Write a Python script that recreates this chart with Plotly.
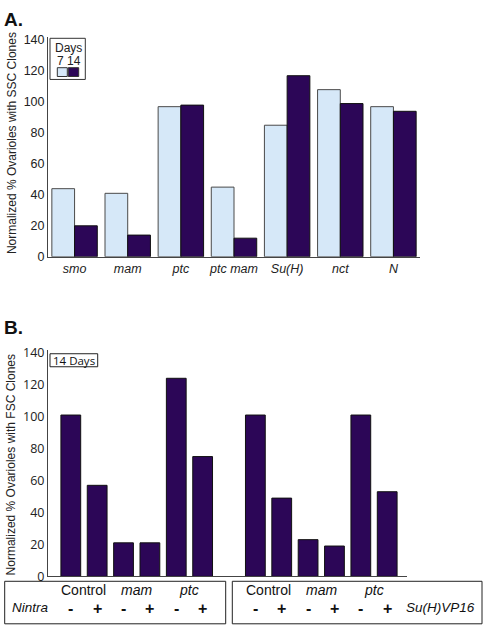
import plotly.graph_objects as go

# ---------- Data ----------
a_categories = ["smo", "mam", "ptc", "ptc mam", "Su(H)", "nct", "N"]
a_day7 = [44, 41, 97, 45, 85, 108, 97]
a_day14 = [20, 14, 98, 12, 117, 99, 94]

b_slots = [0, 1, 2, 3, 4, 5, 7, 8, 9, 10, 11, 12]
b_values = [101, 57, 21, 21, 124, 75, 101, 49, 23, 19, 101, 53]
b_signs = ["-", "+", "-", "+", "-", "+", "-", "+", "-", "+", "-", "+"]
b_group_labels = ["Control", "<i>mam</i>", "<i>ptc</i>", "Control", "<i>mam</i>", "<i>ptc</i>"]
b_group_centers = [0.5, 2.5, 4.5, 7.5, 9.5, 11.5]

y_ticks = [0, 20, 40, 60, 80, 100, 120, 140]

LIGHT = "#d6e8f8"
DARK = "#2c0657"
W, H = 488, 637


def px_x(x):
    return x / W


def px_y(y):
    return 1 - y / H


fig = go.Figure()

fig.add_trace(go.Bar(
    x=a_categories, y=a_day7, name="7", marker=dict(color=LIGHT, line=dict(color="#4a4a4a", width=1)),
    xaxis="x", yaxis="y", showlegend=False))
fig.add_trace(go.Bar(
    x=a_categories, y=a_day14, name="14", marker=dict(color=DARK, line=dict(color="#111111", width=1)),
    xaxis="x", yaxis="y", showlegend=False))
fig.add_trace(go.Bar(
    x=b_slots, y=b_values, width=0.75, marker=dict(color=DARK, line=dict(color="#111111", width=1)),
    xaxis="x2", yaxis="y2", showlegend=False))

font_main = "Liberation Sans, Arial, sans-serif"

fig.update_layout(
    width=W, height=H,
    margin=dict(l=0, r=0, t=0, b=0),
    paper_bgcolor="white", plot_bgcolor="white",
    barmode="group", bargap=0.145, bargroupgap=0,
    font=dict(family=font_main, size=12, color="#222"),
    xaxis=dict(domain=[px_x(48), px_x(420)], anchor="y", range=[-0.5, 6.5],
               tickmode="array", tickvals=a_categories,
               ticktext=["<i>%s</i>" % c for c in a_categories],
               showline=True, linecolor="#444", linewidth=1, showgrid=False,
               ticks="", tickfont=dict(size=12.5, color="#222"), fixedrange=True),
    yaxis=dict(domain=[px_y(257), px_y(32.7)], anchor="x", range=[0, 142],
               tickvals=y_ticks, showline=True, linecolor="#444", linewidth=1,
               showgrid=False, zeroline=False, ticks="", tickfont=dict(size=12.5, color="#222")),
    xaxis2=dict(domain=[px_x(48), px_x(406.7)], anchor="y2", range=[-0.865, 12.74],
                showticklabels=False, showline=True, linecolor="#444", linewidth=1,
                showgrid=False, zeroline=False, ticks=""),
    yaxis2=dict(domain=[px_y(583.3), px_y(351.7)], anchor="x2", range=[0, 142],
                tickvals=y_ticks, showline=True, linecolor="#444", linewidth=1,
                showgrid=False, zeroline=False, ticks="",
                tickfont=dict(family="Open Sans, sans-serif", size=12.5, color="#222")),
)

ann = []
shapes = []


def text(t, x, y, size=12, xref="paper", family=None, color="#222", **kw):
    f = dict(size=size, color=color)
    if family:
        f["family"] = family
    d = dict(text=t, x=x, y=y, xref=xref, yref="paper", showarrow=False,
             xanchor="center", yanchor="middle", font=f)
    d.update(kw)
    ann.append(d)


# Panel letters
text("<b>A.</b>", px_x(2), px_y(15), size=19, color="#111", xanchor="left")
text("<b>B.</b>", px_x(2), px_y(329), size=19, color="#111", xanchor="left")

# Y titles
text("Normalized % Ovarioles with SSC Clones", px_x(12), px_y(141), textangle=-90)
text("Normalized % Ovarioles with FSC Clones", px_x(11), px_y(470), textangle=-90)

# Legend panel A
shapes.append(dict(type="rect", xref="paper", yref="paper", x0=px_x(50), x1=px_x(85.3),
                   y0=px_y(76), y1=px_y(34), line=dict(color="#333", width=1), fillcolor="white"))
text("Days", px_x(68.5), px_y(43.5), size=12)
text("7 14", px_x(69), px_y(57.5), size=12)
shapes.append(dict(type="rect", xref="paper", yref="paper", x0=px_x(57.3), x1=px_x(67.3),
                   y0=px_y(73), y1=px_y(64), line=dict(color="#333", width=1), fillcolor=LIGHT))
shapes.append(dict(type="rect", xref="paper", yref="paper", x0=px_x(68.3), x1=px_x(78.7),
                   y0=px_y(73), y1=px_y(64), line=dict(color="#333", width=1), fillcolor=DARK))

# 14 Days box panel B
shapes.append(dict(type="rect", xref="paper", yref="paper", x0=px_x(50), x1=px_x(97.7),
                   y0=px_y(369.3), y1=px_y(356), line=dict(color="#222", width=1), fillcolor="white"))
text("14 Days", px_x(73.8), px_y(362.7), size=11.5, family="Open Sans, sans-serif", color="#111")

# Boxes below panel B
shapes.append(dict(type="rect", xref="paper", yref="paper", x0=px_x(4.7), x1=px_x(225.7),
                   y0=px_y(631.7), y1=px_y(588.3), line=dict(color="#222", width=1)))
shapes.append(dict(type="rect", xref="paper", yref="paper", x0=px_x(232.3), x1=px_x(482),
                   y0=px_y(631.7), y1=px_y(588.3), line=dict(color="#222", width=1)))

for label, cx in zip(b_group_labels, b_group_centers):
    text(label, cx, px_y(597), size=14, xref="x2", color="#111")
for s, sx in zip(b_signs, b_slots):
    text("<b>%s</b>" % s, sx, px_y(616), size=16, xref="x2", color="#111")

text("<i>Nintra</i>", px_x(30), px_y(615.5), size=13.5, color="#111")
text("<i>Su(H)VP16</i>", px_x(440), px_y(615.5), size=13.5, color="#111")

fig.update_layout(annotations=ann, shapes=shapes)

fig.write_html("out.html", config={"displayModeBar": False},
               post_script="document.body.style.margin='0px';")
